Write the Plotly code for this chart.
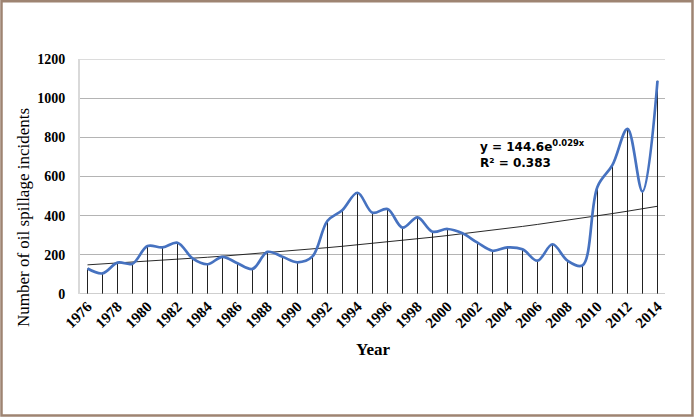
import numpy as np
import plotly.graph_objects as go

years = list(range(1976, 2015))
incidents = [130, 105, 160, 155, 245, 238, 262, 182, 152, 190, 157, 128, 215,
             190, 162, 192, 374, 429, 517, 415, 434, 339, 391, 318, 332, 310,
             262, 221, 238, 228, 170, 254, 170, 146, 548, 659, 843, 523, 1089]
tick_years = list(range(1976, 2015, 2))
y_ticks = [0, 200, 400, 600, 800, 1000, 1200]

# Exponential trendline parameters as shown on the chart
trend_a = 144.6
trend_b = 0.029
trend_r2 = 0.383

idx = np.arange(1, len(years) + 1)
trend = trend_a * np.exp(trend_b * idx)

# drop lines from each point to the axis
drop_x, drop_y = [], []
for yr, v in zip(years, incidents):
    drop_x += [yr, yr, None]
    drop_y += [0, v, None]

fig = go.Figure()
fig.add_trace(go.Scatter(x=drop_x, y=drop_y, mode="lines",
                         line=dict(color="#222222", width=1),
                         hoverinfo="skip", showlegend=False))
fig.add_trace(go.Scatter(x=years, y=trend, mode="lines",
                         line=dict(color="#111111", width=0.9),
                         showlegend=False))
fig.add_trace(go.Scatter(x=years, y=incidents, mode="lines",
                         line=dict(color="#4672C0", width=2.7, shape="spline", smoothing=1.0),
                         showlegend=False))

W, H = 695, 418
L, R, T, B = 80, 30, 59, 124
pw, ph = W - L - R, H - T - B

def px_x(x):
    return (x - L) / pw

def px_y(y):
    return (H - B - y) / ph

serif = "Liberation Serif, Times New Roman, serif"

fig.update_layout(
    width=W, height=H,
    margin=dict(l=L, r=R, t=T, b=B, autoexpand=False),
    paper_bgcolor="white", plot_bgcolor="white",
    showlegend=False,
    xaxis=dict(range=[1975.5, 2014.5], tickvals=tick_years,
               ticktext=[str(t) for t in tick_years],
               tickangle=-45, showgrid=False, zeroline=False,
               showline=False, ticks="", automargin=False,
               tickfont=dict(family=serif, size=15, color="black", weight="bold")),
    yaxis=dict(range=[0, 1200], tickvals=y_ticks, showgrid=True,
               gridcolor="#b4b4b4", gridwidth=1, zeroline=False,
               showline=True, linecolor="#d9d9d9", linewidth=2, ticks="",
               ticklen=0, ticklabelstandoff=10, automargin=False,
               tickfont=dict(family=serif, size=14, color="black", weight="bold")),
    shapes=[
        dict(type="line", xref="paper", yref="y", x0=0, x1=1, y0=0, y1=0,
             line=dict(color="#a0a0a0", width=1.2)),
        dict(type="line", xref="paper", yref="y", x0=0, x1=1, y0=1200, y1=1200,
             line=dict(color="#dcdcdc", width=2)),
        dict(type="rect", xref="paper", yref="paper",
             x0=px_x(1.5), x1=px_x(692.5), y0=px_y(415.5), y1=px_y(1.2),
             line=dict(color="#9e8472", width=2.5), layer="above"),
    ],
    annotations=[
        dict(text="Number of oil spillage incidents", xref="paper", yref="paper",
             x=px_x(23), y=px_y(218), showarrow=False, textangle=-90,
             font=dict(family=serif, size=17, color="black"),
             xanchor="center", yanchor="middle"),
        dict(text="<b>Year</b>", xref="paper", yref="paper",
             x=px_x(373), y=px_y(349), showarrow=False,
             font=dict(family=serif, size=17, color="black"),
             xanchor="center", yanchor="middle"),
        dict(text=f"<b>y = {trend_a}e<sup>{trend_b}x</sup><br>R² = {trend_r2}</b>",
             xref="paper", yref="paper", x=px_x(478), y=px_y(153.5),
             showarrow=False, align="left", xanchor="left", yanchor="middle",
             font=dict(family="DejaVu Sans, Verdana, sans-serif", size=12, color="black")),
    ],
)

fig.write_html("out.html", config={"displayModeBar": False},
               post_script="document.body.style.margin='0';document.body.style.padding='0';document.body.style.overflow='hidden';")
